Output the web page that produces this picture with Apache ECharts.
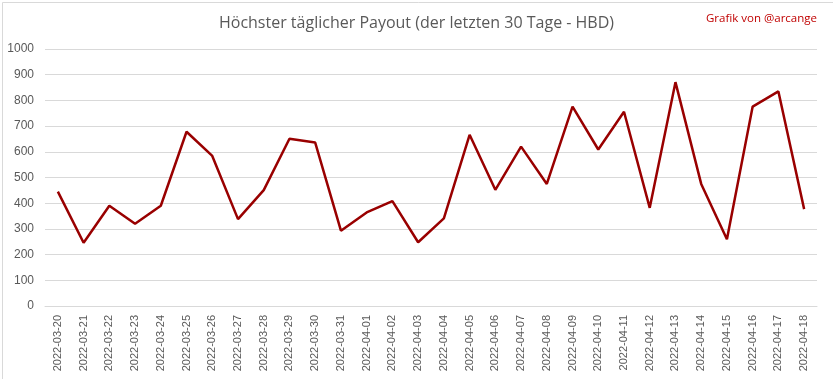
<!DOCTYPE html>
<html>
<head>
<meta charset="utf-8">
<script src="https://cdn.jsdelivr.net/npm/echarts@6/dist/echarts.min.js"></script>
<style>
html,body{margin:0;padding:0;background:#fff;}
#c{width:833px;height:379px;}
</style>
</head>
<body>
<div id="c"></div>
<script>
const titleText = "Höchster täglicher Payout (der letzten 30 Tage - HBD)";
const creditText = "Grafik von @arcange";
const categories = ["2022-03-20","2022-03-21","2022-03-22","2022-03-23","2022-03-24","2022-03-25","2022-03-26","2022-03-27","2022-03-28","2022-03-29","2022-03-30","2022-03-31","2022-04-01","2022-04-02","2022-04-03","2022-04-04","2022-04-05","2022-04-06","2022-04-07","2022-04-08","2022-04-09","2022-04-10","2022-04-11","2022-04-12","2022-04-13","2022-04-14","2022-04-15","2022-04-16","2022-04-17","2022-04-18"];
const payout = [445,246,390,320,390,678,584,338,451,651,636,293,364,408,248,341,666,452,620,475,776,609,756,382,871,475,260,776,835,377];

const chart = echarts.init(document.getElementById('c'), null, {renderer:'canvas'});
chart.setOption({
  animation:false,
  backgroundColor:'#ffffff',
  title:[{
    text:titleText, left:'center', top:10,
    textStyle:{fontFamily:'Open Sans, sans-serif', fontWeight:'normal', fontSize:16, color:'#595959'}
  },{
    text:creditText, right:11, top:8,
    textStyle:{fontFamily:'Open Sans, sans-serif', fontWeight:'normal', fontSize:11.5, color:'#c00000'}
  }],
  graphic:[{type:'rect', left:0, top:0, shape:{x:0.5,y:0.5,width:832,height:378}, style:{fill:'none', stroke:'#d9d9d9', lineWidth:1}, silent:true}],
  grid:{left:45, right:16, top:49, bottom:73, containLabel:false},
  xAxis:{
    type:'category', data:categories, boundaryGap:true,
    axisLine:{lineStyle:{color:'#d9d9d9'}}, axisTick:{show:false},
    axisLabel:{rotate:90, interval:0, margin:9, color:'#595959', fontSize:11, fontFamily:'Liberation Sans, sans-serif'}
  },
  yAxis:{
    type:'value', min:0, max:1000, interval:100,
    axisLine:{show:false}, axisTick:{show:false},
    splitLine:{lineStyle:{color:'#d9d9d9', width:1}},
    axisLabel:{color:'#595959', fontSize:12, margin:11, fontFamily:'Liberation Sans, sans-serif', formatter:function(v){return String(v);}}
  },
  series:[{
    type:'line', data:payout, symbol:'none', smooth:false,
    lineStyle:{color:'#990000', width:2.5}
  }]
});
</script>
</body>
</html>
